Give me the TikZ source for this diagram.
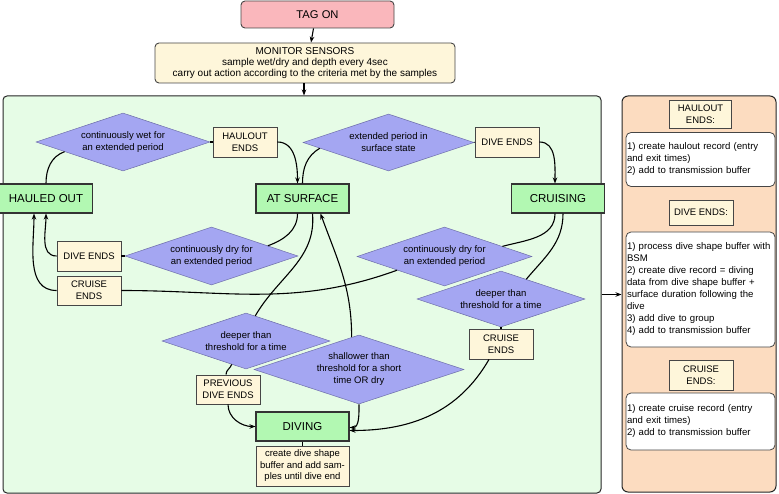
\documentclass[tikz,border=0pt]{standalone}
\usepackage{fontspec}
\setmainfont{Liberation Sans}
\usetikzlibrary{shapes.geometric,arrows.meta,calc}
\definecolor{pinkc}{RGB}{250,183,188}
\definecolor{yelc}{RGB}{254,246,218}
\definecolor{greenc}{RGB}{178,248,178}
\definecolor{panelg}{RGB}{230,252,230}
\definecolor{diac}{RGB}{164,166,242}
\definecolor{diaedge}{RGB}{110,110,170}
\definecolor{peach}{RGB}{252,220,192}
\definecolor{edgec}{RGB}{70,70,70}
\begin{document}
\begin{tikzpicture}[x=1pt,y=1pt,
  base/.style={draw=edgec, line width=0.9pt, inner sep=0pt, align=center, font=\fontsize{9.5}{12}\selectfont},
  state/.style={draw=black!80, line width=1.1pt, fill=greenc, minimum width=93pt, minimum height=29pt, inner sep=0pt, font=\fontsize{11.5}{13}\selectfont},
  cond/.style={diamond, aspect=3, draw=diaedge, line width=0.5pt, fill=diac, inner sep=0pt, minimum width=172pt, minimum height=58pt, align=center, font=\fontsize{9.5}{12}\selectfont},
  evt/.style={base, fill=yelc, minimum width=64pt, minimum height=30pt},
  conn/.style={line width=1.1pt, black},
  arr/.style={conn, -{Stealth[length=6pt,width=4.5pt]}},
  panel/.style={draw=black!85, line width=1pt, rounded corners=4pt, inner sep=0pt},
  wbox/.style={draw=edgec, line width=0.8pt, fill=white, rounded corners=5pt, text width=147pt, align=left, inner xsep=1pt, inner ysep=0pt, font=\fontsize{9.6}{12}\selectfont},
]
\useasboundingbox (0,0) rectangle (779,-494);

% top
\node[base, fill=pinkc, rounded corners=4pt, minimum width=153pt, minimum height=27pt, font=\fontsize{11.2}{13}\selectfont] (tagon) at (317.5,-14.5) {TAG ON};
\node[base, fill=yelc, rounded corners=4pt, minimum width=300pt, minimum height=40pt, font=\fontsize{10}{11}\selectfont] (monitor) at (305,-63) {MONITOR SENSORS\\sample wet/dry and depth every 4sec\\carry out action according to the criteria met by the samples};

% panels
\node[panel, fill=panelg, minimum width=598pt, minimum height=397pt] (gp) at (302,-294.5) {};
\node[panel, fill=peach, rounded corners=6pt, minimum width=154pt, minimum height=396pt] (rp) at (699,-294) {};

% right panel content
\node[evt, minimum width=62pt, minimum height=28pt] (hend) at (700.5,-114) {HAULOUT\\ENDS:};
\node[wbox, minimum height=54pt] (hbox) at (700.5,-159.5) {1) create haulout record (entry\\and exit times)\\2) add to transmission buffer};
\node[evt, minimum height=25pt] (dend) at (701,-212.5) {DIVE ENDS:};
\node[wbox, minimum height=115pt] (dbox) at (700.5,-289.5) {1) process dive shape buffer with\\BSM\\2) create dive record = diving\\data from dive shape buffer +\\surface duration following the\\dive\\3) add dive to group\\4) add to transmission buffer};
\node[evt] (cend) at (701,-375) {CRUISE\\ENDS:};
\node[wbox, minimum height=57pt] (cbox) at (700.5,-421.5) {1) create cruise record (entry\\and exit times)\\2) add to transmission buffer};

% states
\node[state] (ho) at (46,-198.5) {HAULED OUT};
\node[state] (as) at (302.5,-198.5) {AT SURFACE};
\node[state] (cr) at (558,-198.5) {CRUISING};
\node[state] (dv) at (302.5,-426.5) {DIVING};
\node[base, fill=yelc, minimum width=93pt, minimum height=40pt, font=\fontsize{9.5}{11.5}\selectfont] (dtxt) at (302.5,-466) {create dive shape\\buffer and add sam-\\ples until dive end};

% conditions
\node[cond, minimum width=174pt] (d1) at (123,-142) {continuously wet for\\an extended period};
\node[evt] (he1) at (245,-142) {HAULOUT\\ENDS};
\node[cond, minimum width=171pt, minimum height=57pt] (d2) at (388.5,-142.5) {extended period in\\surface state};
\node[evt] (de1) at (507,-142) {DIVE ENDS};
\node[cond, minimum width=173pt] (d3) at (211.5,-256) {continuously dry for\\an extended period};
\node[evt] (dl) at (89,-256) {DIVE ENDS};
\node[evt, minimum height=29pt] (cl) at (89,-290.5) {CRUISE\\ENDS};
\node[cond, minimum width=175pt, minimum height=59pt] (d4) at (444.5,-256.5) {continuously dry for\\an extended period};
\node[cond, minimum width=168pt, minimum height=56pt] (d5) at (501,-299) {deeper than\\threshold for a time};
\node[evt] (ce) at (501,-344) {CRUISE\\ENDS};
\node[cond, minimum width=168pt, minimum height=56pt] (d6) at (246,-341) {deeper than\\threshold for a time};
\node[cond, minimum width=210pt, minimum height=69pt] (d7) at (359,-369.5) {shallower than\\threshold for a short\\time OR dry};
\node[evt, minimum height=29pt] (pde) at (228,-389.5) {PREVIOUS\\DIVE ENDS};

% connectors
\draw[arr] ([xshift=-4pt]tagon.south) -- ([xshift=6pt]monitor.north);
\draw[arr] ([xshift=-1pt]monitor.south) -- ([xshift=-1pt]monitor.south |- gp.north);
\draw[arr] (gp.east) -- (gp.east -| rp.west);

\draw[conn] (ho.north) to[out=90,in=200] ($(d1.west)!0.33!(d1.south)$);
\draw[conn] (d1.east) -- (he1.west);
\draw[arr] (he1.east) to[out=0,in=90] ([xshift=-5pt]as.north);
\draw[conn] (as.north) to[out=90,in=210] ($(d2.west)!0.2!(d2.south)$);
\draw[conn] (d2.east) -- (de1.west);
\draw[arr] (de1.east) to[out=0,in=90] ([xshift=-3pt]cr.north);
\draw[conn] ([xshift=-5pt]as.south) to[out=-90,in=20] ($(d3.east)!0.35!(d3.north)$);
\draw[conn] (d3.west) -- (dl.east);
\draw[arr] (dl.west) to[out=180,in=-90] (ho.south);
\draw[conn] ([xshift=-3pt]cr.south) to[out=-90,in=15] ($(d4.east)!0.34!(d4.north)$);
\draw[conn] ($(d4.west)!0.46!(d4.south)$) to[out=200,in=0] (cl.east);
\draw[arr] (cl.west) to[out=180,in=-90] ([xshift=-12pt]ho.south);
\draw[conn] ([xshift=5pt]cr.south) to[out=-90,in=50] ($(d5.north)!0.3!(d5.east)$);
\draw[conn] (d5.south) -- (ce.north);
\draw[arr] ([xshift=-12pt]ce.south) to[out=-120,in=0] ([yshift=-4pt]dv.east);
\draw[conn] ([xshift=10pt]as.south) to[out=-85,in=60] ($(d6.north)!0.11!(d6.east)$);
\draw[conn] ($(d6.south)!0.17!(d6.west)$) to[out=-110,in=90] ([xshift=-2pt]pde.north);
\draw[arr] (pde.south) to[out=-90,in=180] (dv.west);
\draw[arr] ($(d7.north)!0.07!(d7.west)$) to[out=90,in=-70] ([xshift=18pt]as.south);
\draw[arr] (d7.south) to[out=-90,in=0] ([yshift=-1pt]dv.east);
\draw[conn] (dv.south) -- (dtxt.north);
\end{tikzpicture}
\end{document}
